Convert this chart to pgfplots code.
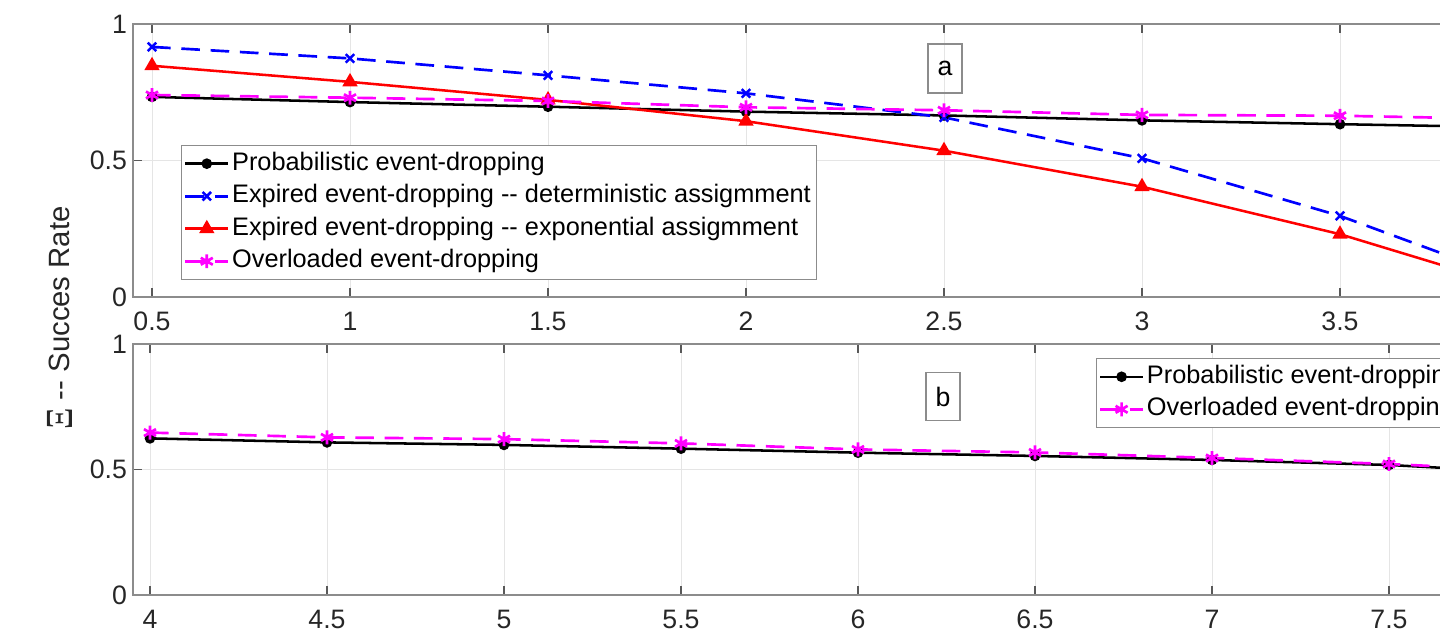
\documentclass[border=0pt]{standalone}
\usepackage{pgfplots}
\pgfplotsset{compat=1.18}
\usepackage{fontspec}
\setmainfont{Liberation Sans}
\newfontfamily\serifgreek{Liberation Serif}
\definecolor{mblue}{rgb}{0,0,1}
\definecolor{mred}{rgb}{1,0,0}
\definecolor{mmag}{rgb}{1,0,1}
\pgfplotsset{
  mstyle/.style={
    scale only axis,
    anchor=south west,
    ymin=0, ymax=1,
    ytick={0,0.5,1},
    axis line style={draw=black!45, line width=0.8pt},
    tick style={draw=black!65, line width=0.8pt},
    major tick length=7pt,
    tick align=inside,
    xtick pos=both, ytick pos=both,
    grid=major,
    major grid style={draw=black!10, line width=0.6pt},
    /pgf/number format/assume math mode=true,
    tick label style={font=\fontsize{20}{24}\selectfont, color=black!85},
    xticklabel style={yshift=-8pt},
    yticklabel style={xshift=-1pt},
    legend cell align=left,
    legend image code/.code={\draw[mark repeat=2,mark phase=2,##1] plot coordinates {(0pt,0pt) (16pt,0pt) (32pt,0pt)};},
    legend style={draw=black!45, line width=0.7pt, fill=white, font=\fontsize{19}{22}\selectfont,
      inner xsep=2pt, inner ysep=1.5pt,
      nodes={inner sep=2pt, text height=15pt, text depth=5.4pt}},
  },
  pblack/.style={black, line width=1.9pt, mark=*, mark size=3pt, mark options={solid}},
  pblue/.style={mblue, line width=2pt, dash pattern=on 14pt off 8pt, mark=x, mark size=4.5pt, mark options={solid, line width=1.9pt}},
  pred/.style={mred, line width=1.9pt, mark=triangle*, mark size=4.8pt, mark options={solid}},
  pmag/.style={mmag, line width=2pt, dash pattern=on 14pt off 8pt, mark=asterisk, mark size=5.2pt, mark options={solid, line width=2pt}},
}
\begin{document}
\begin{tikzpicture}
\useasboundingbox (0pt,0pt) rectangle (1080pt,477pt);
\clip (0pt,0pt) rectangle (1080pt,477pt);
% top panel (a)
\begin{axis}[mstyle,
  at={(99.75pt,254.25pt)},
  width=1068pt, height=204.75pt,
  xmin=0.452, xmax=4.048,
  xtick={0.5,1,1.5,2,2.5,3,3.5,4},
  legend style={at={(0.0337,0.557)}, anchor=north west},
]
\addplot[pblack] coordinates {(0.5,0.733) (1,0.714) (1.5,0.697) (2,0.679) (2.5,0.665) (3,0.647) (3.5,0.633) (4,0.620)};
\addlegendentry{Probabilistic event-dropping}
\addplot[pblue] coordinates {(0.5,0.916) (1,0.874) (1.5,0.812) (2,0.746) (2.5,0.658) (3,0.508) (3.5,0.297) (4,0.030)};
\addlegendentry{Expired event-dropping -{}- deterministic assigmment}
\addplot[pred] coordinates {(0.5,0.847) (1,0.788) (1.5,0.722) (2,0.644) (2.5,0.536) (3,0.404) (3.5,0.230) (4,0.010)};
\addlegendentry{Expired event-dropping -{}- exponential assigmment}
\addplot[pmag] coordinates {(0.5,0.740) (1,0.730) (1.5,0.718) (2,0.695) (2.5,0.684) (3,0.667) (3.5,0.664) (4,0.650)};
\addlegendentry{Overloaded event-dropping}
\node[draw=black!45, line width=0.8pt, minimum width=25.5pt, minimum height=36.75pt, inner sep=0pt, font=\fontsize{20}{24}\selectfont] at (axis cs:2.5025,0.837) {a};
\end{axis}
% bottom panel (b)
\begin{axis}[mstyle,
  at={(99.75pt,30.75pt)},
  width=1087.5pt, height=188.25pt,
  xmin=3.952, xmax=8.048,
  xtick={4,4.5,5,5.5,6,6.5,7,7.5,8},
  legend style={at={(0.664,0.944)}, anchor=north west},
]
\addplot[pblack] coordinates {(4,0.624) (4.5,0.608) (5,0.598) (5.5,0.583) (6,0.567) (6.5,0.554) (7,0.538) (7.5,0.518) (8,0.480)};
\addlegendentry{Probabilistic event-dropping}
\addplot[pmag] coordinates {(4,0.647) (4.5,0.628) (5,0.621) (5.5,0.604) (6,0.580) (6.5,0.568) (7,0.546) (7.5,0.522) (8,0.488)};
\addlegendentry{Overloaded event-dropping}
\node[draw=black!45, line width=0.8pt, minimum width=25.5pt, minimum height=36pt, inner sep=0pt, font=\fontsize{20}{24}\selectfont] at (axis cs:6.24,0.789) {b};
\end{axis}
\node[rotate=90, font=\fontsize{22}{26}\selectfont, color=black!85] at (45pt,238.5pt) {\raisebox{-2pt}{\scalebox{1}[1.15]{\serifgreek\fontsize{25}{28}\selectfont Ξ}}\ -{}- Succes Rate};
\end{tikzpicture}
\end{document}
